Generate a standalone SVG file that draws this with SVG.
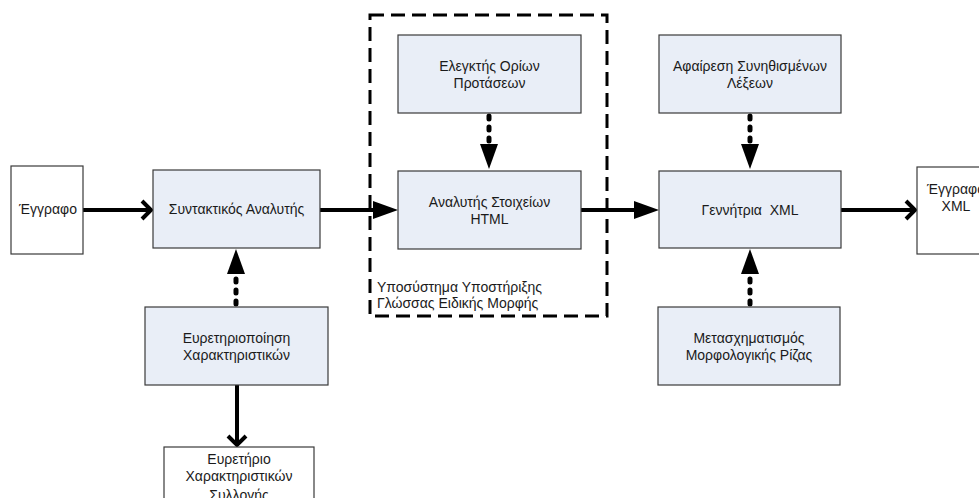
<svg xmlns="http://www.w3.org/2000/svg" width="979" height="498" viewBox="0 0 979 498">
  <style>
    .box { fill: #e9eef7; stroke: #3a3a3a; stroke-width: 1.2; }
    .doc { fill: #ffffff; stroke: #3a3a3a; stroke-width: 1.2; }
    text { font-family: "Liberation Sans", Arial, sans-serif; font-size: 14px; fill: #1a1a1a; }
    .c { text-anchor: middle; }
    .solid { stroke: #000; stroke-width: 4; fill: none; }
    .dotted { stroke: #000; stroke-width: 5; fill: none; stroke-linecap: round; stroke-dasharray: 3 8; }
    .frame { fill: none; stroke: #000; stroke-width: 3; stroke-dasharray: 14 7; }
  </style>
  <defs>
    <!-- filled triangle head, drawn forward from the end of the line -->
    <marker id="tri" markerUnits="userSpaceOnUse" markerWidth="26" markerHeight="20" refX="0" refY="9" orient="auto" overflow="visible">
      <path d="M0,0 L25,9 L0,18 Z" fill="#000"/>
    </marker>
    <!-- open chevron head, tip at the end of the line -->
    <marker id="vee" markerUnits="userSpaceOnUse" markerWidth="14" markerHeight="22" refX="10" refY="10" orient="auto" overflow="visible">
      <path d="M1,1 L10,10 L1,19" fill="none" stroke="#000" stroke-width="4"/>
    </marker>
  </defs>

  <!-- subsystem frame -->
  <g id="subsystem">
    <rect class="frame" x="370" y="15" width="237" height="301"/>
    <text x="377" y="292">Υποσύστημα Υποστήριξης</text>
    <text x="377" y="308">Γλώσσας Ειδικής Μορφής</text>
  </g>

  <g id="connectors">
    <line class="solid" x1="83" y1="210" x2="151" y2="210" marker-end="url(#vee)"/>
    <line class="solid" x1="320" y1="210" x2="373" y2="210" marker-end="url(#tri)"/>
    <line class="dotted" x1="489" y1="116" x2="489" y2="144" marker-end="url(#tri)"/>
    <line class="solid" x1="581" y1="210" x2="634" y2="210" marker-end="url(#tri)"/>
    <line class="dotted" x1="750" y1="116" x2="750" y2="144" marker-end="url(#tri)"/>
    <line class="dotted" x1="750" y1="304" x2="750" y2="274" marker-end="url(#tri)"/>
    <line class="solid" x1="841" y1="210" x2="915" y2="210" marker-end="url(#vee)"/>
    <line class="dotted" x1="236" y1="304" x2="236" y2="274" marker-end="url(#tri)"/>
    <line class="solid" x1="237" y1="385" x2="237" y2="445" marker-end="url(#vee)"/>
  </g>

  <g id="doc-in">
    <rect class="doc" x="11" y="166" width="72" height="88"/>
    <text class="c" x="48" y="214">Έγγραφο</text>
  </g>

  <g id="parser">
    <rect class="box" x="153" y="170" width="167" height="78"/>
    <text class="c" x="236.5" y="214">Συντακτικός Αναλυτής</text>
  </g>

  <g id="sentence-checker">
    <rect class="box" x="398" y="35" width="183" height="78"/>
    <text class="c" x="489.5" y="71">Ελεγκτής Ορίων</text>
    <text class="c" x="489.5" y="88">Προτάσεων</text>
  </g>

  <g id="html-parser">
    <rect class="box" x="398" y="171" width="183" height="78"/>
    <text class="c" x="489.5" y="207">Αναλυτής Στοιχείων</text>
    <text class="c" x="489.5" y="224">HTML</text>
  </g>

  <g id="stopwords">
    <rect class="box" x="659" y="35" width="182" height="78"/>
    <text class="c" x="750" y="71">Αφαίρεση Συνηθισμένων</text>
    <text class="c" x="750" y="88">Λέξεων</text>
  </g>

  <g id="xml-generator">
    <rect class="box" x="659" y="171" width="182" height="77"/>
    <text class="c" x="750" y="215" xml:space="preserve">Γεννήτρια  XML</text>
  </g>

  <g id="stemmer">
    <rect class="box" x="658" y="307" width="182" height="78"/>
    <text class="c" x="749" y="343">Μετασχηματισμός</text>
    <text class="c" x="749" y="360">Μορφολογικής Ρίζας</text>
  </g>

  <g id="doc-out">
    <rect class="doc" x="917" y="167" width="78" height="87"/>
    <text class="c" x="956" y="194">Έγγραφο</text>
    <text class="c" x="956" y="211">XML</text>
  </g>

  <g id="feature-indexing">
    <rect class="box" x="145" y="307" width="183" height="78"/>
    <text class="c" x="236.5" y="343">Ευρετηριοποίηση</text>
    <text class="c" x="236.5" y="360">Χαρακτηριστικών</text>
  </g>

  <g id="feature-index">
    <rect class="doc" x="164" y="447" width="150" height="70"/>
    <text class="c" x="239" y="464">Ευρετήριο</text>
    <text class="c" x="239" y="481">Χαρακτηριστικών</text>
    <text class="c" x="239" y="500">Συλλογής</text>
  </g>
</svg>
